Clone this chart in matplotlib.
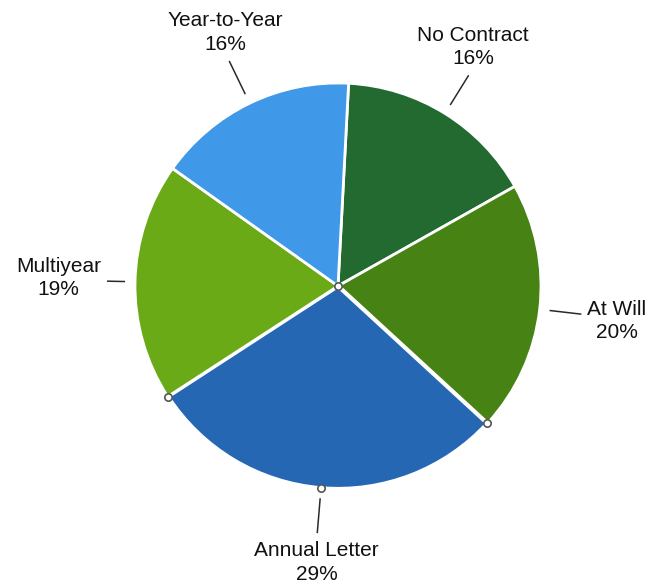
import numpy as np
import matplotlib
matplotlib.use("Agg")
import matplotlib.pyplot as plt

plt.rcParams['font.family'] = ['Liberation Sans', 'DejaVu Sans']

labels = ["No Contract", "At Will", "Annual Letter", "Multiyear", "Year-to-Year"]
shares = [16, 20, 29, 19, 16]
colors = ["#236a31", "#478314", "#2567b3", "#6aaa17", "#3f98e8"]
selected = "Annual Letter"

# leader line outer radius per label
leader_out = [248, 245, 248, 231, 250]

W, H = 662, 586
fig = plt.figure(figsize=(W / 100, H / 100), dpi=100)
ax = fig.add_axes([0, 0, 1, 1])

cx, cy, R = 338, H - 286, 203
start = 87

wedges, _ = ax.pie(shares, colors=colors, startangle=start, counterclock=False,
                   center=(cx, cy), radius=R, frame=True,
                   wedgeprops=dict(edgecolor="white", linewidth=2))
ax.set_xlim(0, W)
ax.set_ylim(0, H)
ax.set_aspect("equal")
ax.axis("off")

# leader lines and labels
for w, name, pct, rout in zip(wedges, labels, shares, leader_out):
    mid = np.deg2rad((w.theta1 + w.theta2) / 2)
    c, s = np.cos(mid), np.sin(mid)
    ax.plot([cx + 213 * c, cx + rout * c], [cy + 213 * s, cy + rout * s],
            color="#2a2a2a", lw=1.1, solid_capstyle="butt")
    tx, ty = cx + (rout + 8) * c, cy + (rout + 8) * s
    if s > 0.7:
        ha, va = "center", "bottom"
    elif s < -0.7:
        ha, va = "center", "top"
    elif c > 0:
        ha, va = "left", "center"
        tx -= 2
        ty -= 6
    else:
        ha, va = "right", "center"
        tx += 2
        ty += 3
    ax.text(tx, ty, f"{name}\n{pct}%", ha=ha, va=va, multialignment="center",
            fontsize=15, color="#111111", linespacing=1.3)

# selection handles on the highlighted wedge
sel = wedges[labels.index(selected)]
sel.set_linewidth(3)
t1, t2 = np.deg2rad(sel.theta1), np.deg2rad(sel.theta2)
tm = (t1 + t2) / 2
hx = [cx, cx + R * np.cos(t1), cx + R * np.cos(t2), cx + R * np.cos(tm)]
hy = [cy, cy + R * np.sin(t1), cy + R * np.sin(t2), cy + R * np.sin(tm)]
ax.scatter(hx, hy, s=28, facecolor="white", edgecolor="#555555", linewidth=1.2, zorder=5)

fig.savefig("out.png", dpi=100)
